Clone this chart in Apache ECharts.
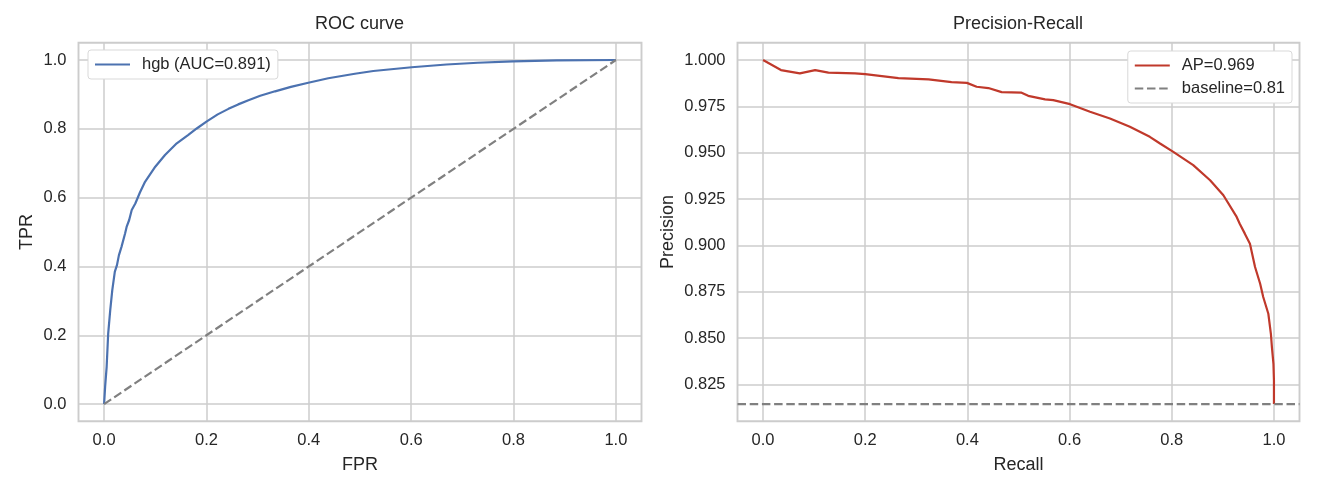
<!DOCTYPE html>
<html>
<head>
<meta charset="utf-8">
<script src="https://cdn.jsdelivr.net/npm/echarts@6/dist/echarts.min.js"></script>
<style>
  html, body { margin: 0; padding: 0; background: #fff; }
  #chart { width: 1320px; height: 495px; }
</style>
</head>
<body>
<div id="chart"></div>
<script>
// ROC curve points
const rocFpr = [0, 0.002, 0.005, 0.008, 0.012, 0.016, 0.021, 0.025, 0.029, 0.034, 0.041, 0.044, 0.049, 0.054,
  0.061, 0.070, 0.080, 0.100, 0.119, 0.142, 0.164, 0.181, 0.200, 0.222, 0.243, 0.262, 0.282, 0.305, 0.334,
  0.365, 0.399, 0.438, 0.490, 0.526, 0.601, 0.669, 0.730, 0.799, 0.884, 1.0];
const rocTpr = [0, 0.05, 0.108, 0.205, 0.273, 0.331, 0.385, 0.403, 0.433, 0.457, 0.496, 0.515, 0.535, 0.564,
  0.583, 0.615, 0.646, 0.690, 0.724, 0.758, 0.782, 0.801, 0.821, 0.842, 0.858, 0.871, 0.883, 0.896, 0.909,
  0.922, 0.934, 0.947, 0.960, 0.968, 0.979, 0.987, 0.992, 0.996, 0.999, 1.0];
const chanceLine = [0, 1];

// precision-recall points
const prRecall = [0, 0.035, 0.072, 0.102, 0.128, 0.180, 0.200, 0.265, 0.324, 0.369, 0.399, 0.418, 0.441, 0.467,
  0.506, 0.519, 0.552, 0.568, 0.601, 0.640, 0.679, 0.718, 0.757, 0.777, 0.803, 0.842, 0.875, 0.901, 0.927,
  0.933, 0.943, 0.953, 0.963, 0.973, 0.979, 0.989, 0.994, 0.996, 0.999, 1.0, 1.0];
const prPrecision = [1.0, 0.9946, 0.9928, 0.9946, 0.9932, 0.9928, 0.9924, 0.9903, 0.9896, 0.9881, 0.9877, 0.9856,
  0.9849, 0.9827, 0.9824, 0.9807, 0.9788, 0.9784, 0.9762, 0.9721, 0.9685, 0.964, 0.9586, 0.955, 0.9505, 0.9433,
  0.9352, 0.9271, 0.9154, 0.9117, 0.9064, 0.901, 0.8884, 0.8794, 0.8722, 0.8632, 0.8524, 0.8452, 0.8362,
  0.8272, 0.8145];
const baseline = 0.8145;

// tick labels
const unitTicks = [0, 0.2, 0.4, 0.6, 0.8, 1.0];
const precisionTicks = [0.825, 0.85, 0.875, 0.9, 0.925, 0.95, 0.975, 1.0];

const names = {
  roc: 'hgb (AUC=0.891)',
  pr: 'AP=0.969',
  base: 'baseline=0.81'
};

const font = '"Liberation Sans", Arial, sans-serif';
const ink = '#262626';
const gridGrey = '#cccccc';

function zip(xs, ys) {
  return xs.map((x, i) => [x, ys[i]]);
}

function valueAxis(idx, min, max, ticks, digits, name, gap, isY) {
  return {
    type: 'value',
    gridIndex: idx,
    min: min,
    max: max,
    name: name,
    nameLocation: 'middle',
    nameGap: gap,
    nameTextStyle: { color: ink, fontSize: 18, fontFamily: font },
    axisLine: { show: false },
    axisTick: { show: false, customValues: ticks },
    axisLabel: {
      customValues: ticks,
      margin: isY ? 12 : 11,
      color: ink,
      fontSize: 16.5,
      fontFamily: font,
      formatter: (v) => v.toFixed(digits)
    },
    splitLine: { show: true, lineStyle: { color: gridGrey, width: 1.5 } }
  };
}

const chart = echarts.init(document.getElementById('chart'));

// legend: line sample only, no marker
const legendCommon = {
  itemWidth: 35,
  itemHeight: 14,
  itemStyle: { opacity: 0 },
  backgroundColor: '#ffffff',
  borderColor: '#d9d9d9',
  borderWidth: 1,
  borderRadius: 3,
  padding: [6, 7, 6, 6],
  itemGap: 6,
  textStyle: { color: ink, fontSize: 16.5, fontFamily: font, padding: [0, 0, 0, 7] }
};

chart.setOption({
  animation: false,
  backgroundColor: '#ffffff',
  title: [
    { text: 'ROC curve', left: 315, top: 15, padding: 0,
      textStyle: { color: ink, fontSize: 18, fontWeight: 'normal', fontFamily: font } },
    { text: 'Precision-Recall', left: 953, top: 15, padding: 0,
      textStyle: { color: ink, fontSize: 18, fontWeight: 'normal', fontFamily: font } }
  ],
  legend: [
    Object.assign({}, legendCommon, { data: [names.roc], left: 88, top: 50 }),
    Object.assign({}, legendCommon, { data: [names.pr, names.base], orient: 'vertical', right: 28, top: 51 })
  ],
  grid: [
    { left: 78.5, top: 42.8, width: 563, height: 378.5, show: true, borderColor: gridGrey, borderWidth: 1.9 },
    { left: 737.5, top: 42.8, width: 562, height: 378.5, show: true, borderColor: gridGrey, borderWidth: 1.9 }
  ],
  xAxis: [
    valueAxis(0, -0.05, 1.05, unitTicks, 1, 'FPR', 35, false),
    valueAxis(1, -0.05, 1.05, unitTicks, 1, 'Recall', 35, false)
  ],
  yAxis: [
    valueAxis(0, -0.05, 1.05, unitTicks, 1, 'TPR', 42, true),
    valueAxis(1, 0.8052, 1.0093, precisionTicks, 3, 'Precision', 60, true)
  ],
  series: [
    {
      name: names.roc, type: 'line', xAxisIndex: 0, yAxisIndex: 0,
      data: zip(rocFpr, rocTpr), symbol: 'none',
      lineStyle: { color: '#4c72b0', width: 2.2 }, itemStyle: { color: '#4c72b0' }
    },
    {
      name: 'chance', type: 'line', xAxisIndex: 0, yAxisIndex: 0,
      data: zip(chanceLine, chanceLine), symbol: 'none',
      lineStyle: { color: '#808080', width: 2.2, type: [8.5, 3.7] }, itemStyle: { color: '#808080' }
    },
    {
      name: names.pr, type: 'line', xAxisIndex: 1, yAxisIndex: 1,
      data: zip(prRecall, prPrecision), symbol: 'none',
      lineStyle: { color: '#c0392b', width: 2.2 }, itemStyle: { color: '#c0392b' }
    },
    {
      name: names.base, type: 'line', xAxisIndex: 1, yAxisIndex: 1,
      data: zip([-0.05, 1.05], [baseline, baseline]), symbol: 'none',
      lineStyle: { color: '#808080', width: 2.2, type: [8.5, 3.7] }, itemStyle: { color: '#808080' }
    }
  ]
});
</script>
</body>
</html>
